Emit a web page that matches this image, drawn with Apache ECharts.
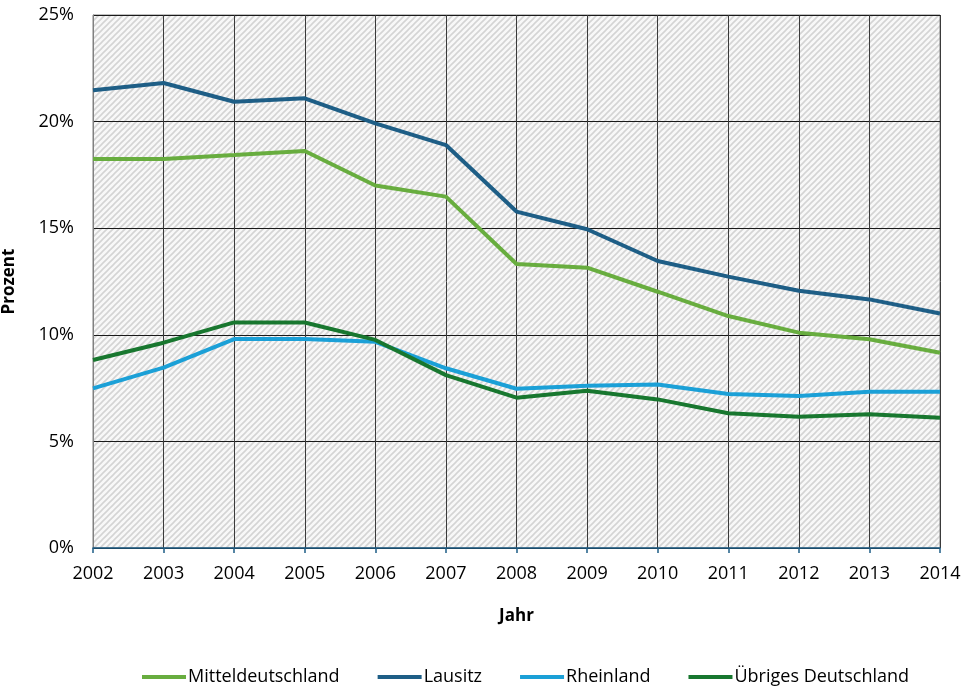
<!DOCTYPE html>
<html>
<head>
<meta charset="utf-8">
<script src="https://cdn.jsdelivr.net/npm/echarts@6/dist/echarts.min.js"></script>
<style>
html,body{margin:0;padding:0;background:#fff;}
#chart{width:963px;height:687px;}
</style>
</head>
<body>
<div id="chart"></div>
<script>
const years = ['2002','2003','2004','2005','2006','2007','2008','2009','2010','2011','2012','2013','2014'];
const mitteldeutschland = [18.25, 18.25, 18.43, 18.62, 17.0, 16.48, 13.32, 13.15, 12.02, 10.88, 10.1, 9.79, 9.16];
const lausitz = [21.47, 21.81, 20.93, 21.09, 19.92, 18.9, 15.78, 14.95, 13.46, 12.73, 12.07, 11.66, 11.0];
const rheinland = [7.49, 8.46, 9.8, 9.8, 9.67, 8.43, 7.47, 7.61, 7.67, 7.22, 7.13, 7.33, 7.33];
const uebriges = [8.82, 9.63, 10.58, 10.58, 9.76, 8.11, 7.05, 7.38, 6.97, 6.32, 6.16, 6.27, 6.11];
const seriesNames = ['Mitteldeutschland', 'Lausitz', 'Rheinland', 'Übriges Deutschland'];
const colors = ['#68ad3f', '#1e5e86', '#1ba0d7', '#18772f'];

// hatched background pattern
const P = 6;
const pc = document.createElement('canvas');
pc.width = P; pc.height = P;
const pctx = pc.getContext('2d');
pctx.fillStyle = '#f8f8f8';
pctx.fillRect(0, 0, P, P);
pctx.strokeStyle = '#d4d4d4';
pctx.lineWidth = 1.6;
pctx.beginPath();
for (let k = -1; k <= 1; k++) {
  pctx.moveTo(k * P - 1, P + 1);
  pctx.lineTo(k * P + P + 1, -1);
}
pctx.stroke();

const font = '"Open Sans", sans-serif';
const chart = echarts.init(document.getElementById('chart'), null, {renderer: 'canvas'});
const dataSets = [mitteldeutschland, lausitz, rheinland, uebriges];
chart.setOption({
  animation: false,
  color: colors,
  textStyle: {fontFamily: font},
  grid: {
    left: 93, right: 23, top: 15, bottom: 139,
    outerBoundsMode: 'none',
    containLabel: false,
    show: true,
    backgroundColor: {image: pc, repeat: 'repeat'},
    borderColor: '#808080',
    borderWidth: 1
  },
  legend: {
    top: 663,
    left: 137,
    itemWidth: 44,
    itemHeight: 4,
    itemGap: 38,
    icon: 'rect',
    textStyle: {fontSize: 18, color: '#000', fontFamily: font, padding: [0, 0, 0, -3]},
    data: seriesNames
  },
  xAxis: {
    type: 'category',
    data: years,
    boundaryGap: false,
    name: 'Jahr',
    nameLocation: 'middle',
    nameGap: 60,
    nameTextStyle: {fontSize: 17, fontWeight: 'bold', color: '#000'},
    axisLine: {show: true, lineStyle: {color: '#1e5e86', width: 1.5}},
    axisTick: {show: true, length: 5, lineStyle: {color: '#1e5e86', width: 1.5}},
    axisLabel: {fontSize: 18, color: '#000', margin: 17},
    splitLine: {show: true, lineStyle: {color: '#3a3a3a', width: 1}}
  },
  yAxis: {
    type: 'value',
    min: 0, max: 25, interval: 5,
    name: 'Prozent',
    nameLocation: 'middle',
    nameGap: 75,
    nameRotate: 90,
    nameTextStyle: {fontSize: 17, fontWeight: 'bold', color: '#000'},
    axisLine: {show: true, lineStyle: {color: '#808080', width: 1}},
    axisTick: {show: false},
    axisLabel: {fontSize: 18, color: '#000', margin: 19, formatter: '{value}%'},
    splitLine: {show: true, lineStyle: {color: '#1a1a1a', width: 1}}
  },
  series: seriesNames.map((n, i) => ({
    name: n,
    type: 'line',
    data: dataSets[i],
    symbol: 'none',
    lineStyle: {width: 4, color: colors[i]},
    itemStyle: {color: colors[i]}
  }))
});
</script>
</body>
</html>
